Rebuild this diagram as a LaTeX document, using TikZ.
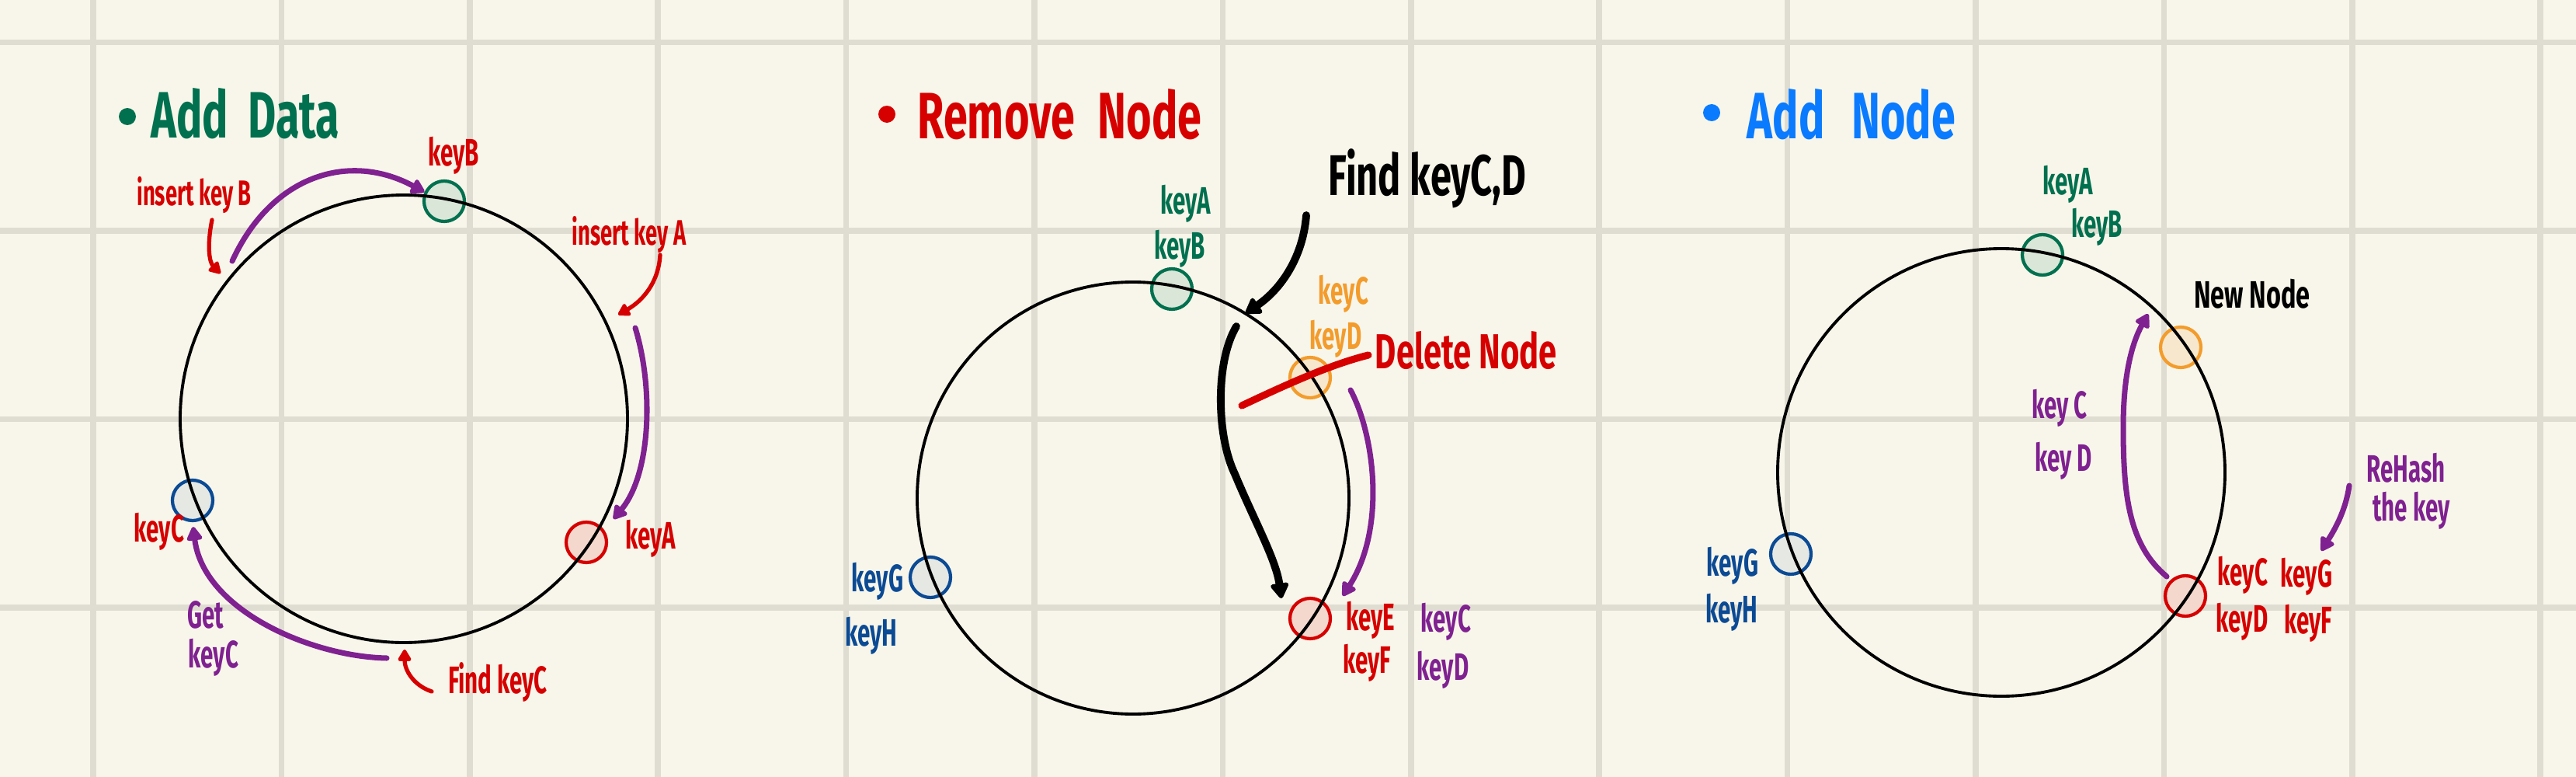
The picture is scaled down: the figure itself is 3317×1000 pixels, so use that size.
\documentclass[tikz,border=0pt]{standalone}
\usepackage{fontspec}
\setmainfont{Fira Sans}[FakeStretch=0.66]
\newfontfamily\handfont{Fira Sans}[FakeStretch=0.6]
\usetikzlibrary{arrows.meta}

\definecolor{paper}{HTML}{F8F6EA}
\definecolor{gridline}{HTML}{DFDDD1}
\definecolor{inkgreen}{HTML}{00704F}
\definecolor{inkred}{HTML}{D60000}
\definecolor{inkblue}{HTML}{0B4A94}
\definecolor{inkbright}{HTML}{0A7BFF}
\definecolor{inkpurple}{HTML}{7F2190}
\definecolor{inkorange}{HTML}{F39C2C}

\tikzset{
  keynode/.style={circle, draw, line width=1.2pt, minimum size=0.52cm, inner sep=0pt},
  greennode/.style={keynode, draw=inkgreen, fill=inkgreen!12!paper},
  bluenode/.style={keynode, draw=inkblue, fill=inkblue!8!paper},
  rednode/.style={keynode, draw=inkred, fill=inkred!12!paper},
  orangenode/.style={keynode, draw=inkorange, fill=inkorange!15!paper},
  ring/.style={line width=1.1pt},
  lbl/.style={font=\handfont\bfseries\fontsize{14}{15}\selectfont, inner sep=0pt},
  smalllbl/.style={font=\handfont\bfseries\fontsize{13}{14}\selectfont, inner sep=0pt},
  ttl/.style={font=\bfseries\fontsize{24}{26}\selectfont, inner sep=0pt, anchor=base west},
  ink/.style={line width=2pt, line cap=round, -{Triangle[length=0.2cm,width=0.22cm,round]}},
  thinink/.style={line width=1.5pt, line cap=round, -{Triangle[length=0.17cm,width=0.19cm,round]}},
  boldink/.style={line width=2.8pt, line cap=round, -{Triangle[length=0.22cm,width=0.26cm,round]}},
}

\begin{document}
\begin{tikzpicture}[x=0.01cm, y=-0.01cm]

\useasboundingbox (0,0) rectangle (3317,1000);
\fill[paper] (0,0) rectangle (3317,1000);
\foreach \i in {0,...,13}
  \draw[gridline, line width=2.2pt] ({120+242.4*\i},0) -- ({120+242.4*\i},1000);
\foreach \j in {0,...,3}
  \draw[gridline, line width=2.2pt] (0,{54.6+242.4*\j}) -- (3317,{54.6+242.4*\j});

% Add Data
\fill[inkgreen] (164,150) circle[radius=11];
\node[ttl, inkgreen] (ttlData) at (194,177) {Add\hspace{0.25cm}Data};

\node[greennode] (g1) at (572,259) {};
\node[bluenode] (b1) at (248,644) {};
\node[rednode] (r1) at (755,698) {};
\draw[ring] (520,539) circle[radius=288];

\node[lbl, inkred] (lB1) at (584,200) {keyB};
\node[smalllbl, inkred] (lInsB) at (250,251) {insert key B};
\node[smalllbl, inkred] (lInsA) at (810,302) {insert key A};
\node[lbl, inkred] (lA1) at (838,693) {keyA};
\node[lbl, inkred] (lC1) at (205,684) {keyC};
\node[lbl, inkpurple] (lGet) at (265,791) {Get};
\node[lbl, inkpurple] (lGetC) at (275,846) {keyC};
\node[lbl, inkred] (lFind) at (641,878) {Find keyC};

\coordinate (insBtail) at (273,283);
\coordinate (insBtip) at (284,352);
\coordinate (movBtail) at (299,336);
\coordinate (insAtail) at (850,328);
\coordinate (insAtip) at (796,405);
\coordinate (movAtail) at (818,422);
\coordinate (movAtip) at (790,668);
\coordinate (getCtail) at (498,847);
\coordinate (findCtail) at (556,890);
\coordinate (findCtip) at (521,836);

\draw[thinink, inkred] (insBtail) .. controls (266,318) and (270,338) .. (insBtip);
\draw[ink, inkpurple] (movBtail) .. controls (350,225) and (450,195) .. (g1.155);
\draw[thinink, inkred] (insAtail) .. controls (848,365) and (826,388) .. (insAtip);
\draw[ink, inkpurple] (movAtail) .. controls (842,500) and (838,610) .. (movAtip);
\draw[ink, inkpurple, shorten >=0.06cm] (getCtail) .. controls (400,845) and (262,785) .. (b1.south);
\draw[thinink, inkred] (findCtail) .. controls (532,882) and (521,862) .. (findCtip);

% Remove Node
\fill[inkred] (1142,147) circle[radius=11];
\node[ttl, inkred] (ttlRemove) at (1181,178) {Remove\hspace{0.3cm}Node};

\node[greennode] (g2) at (1509,372) {};
\node[orangenode] (o2) at (1687,486) {};
\node[bluenode] (b2) at (1198,743) {};
\node[rednode] (r2) at (1687,796) {};
\draw[ring] (1459,641) circle[radius=278];

\node[lbl, inkgreen] (lA2) at (1527,262) {keyA};
\node[lbl, inkgreen] (lB2) at (1519,320) {keyB};
\node[lbl, font=\bfseries\fontsize{21}{23}\selectfont] (lFindCD) at (1838,230) {Find keyC,D};
\node[lbl, inkorange] (lC2) at (1730,378) {keyC};
\node[lbl, inkorange] (lD2) at (1720,436) {keyD};
\node[lbl, inkred, font=\bfseries\fontsize{18}{20}\selectfont] (lDel) at (1888,451) {Delete Node};
\node[lbl, inkblue] (lG2) at (1130,748) {keyG};
\node[lbl, inkblue] (lH2) at (1122,818) {keyH};
\node[lbl, inkred] (lE2) at (1765,798) {keyE};
\node[lbl, inkred] (lF2) at (1760,853) {keyF};
\node[lbl, inkpurple] (lCm2) at (1862,800) {keyC};
\node[lbl, inkpurple] (lDm2) at (1858,862) {keyD};

\coordinate (findtail) at (1682,277);
\coordinate (findtip) at (1604,403);
\coordinate (movetail) at (1592,420);
\coordinate (movebend) at (1590,610);
\coordinate (movetip) at (1650,770);
\coordinate (hashtail) at (1739,502);
\coordinate (hashtip) at (1729,767);
\coordinate (strikeA) at (1599,522);
\coordinate (strikeB) at (1762,457);

\draw[boldink] (findtail) .. controls (1678,330) and (1650,372) .. (findtip);
\draw[boldink] (movetail) .. controls (1565,465) and (1566,560) .. (movebend)
  .. controls (1615,670) and (1643,720) .. (movetip);
\draw[ink, inkpurple] (hashtail) .. controls (1770,560) and (1785,680) .. (hashtip);
\draw[inkred, line width=2.6pt, line cap=round] (strikeA) .. controls (1650,498) and (1710,470) .. (strikeB);

% Add Node
\fill[inkbright] (2204,145) circle[radius=11];
\node[ttl, inkbright] (ttlAdd) at (2249,178) {Add\hspace{0.35cm}Node};

\node[greennode] (g3) at (2630,328) {};
\node[orangenode] (o3) at (2808,447) {};
\node[bluenode] (b3) at (2306,713) {};
\node[rednode] (r3) at (2814,767) {};
\draw[ring] (2577,608) circle[radius=288];

\node[lbl, inkgreen] (lA3) at (2663,237) {keyA};
\node[lbl, inkgreen] (lB3) at (2700,292) {keyB};
\node[lbl, font=\bfseries\fontsize{14}{16}\selectfont] (lNew) at (2900,378) {New Node};
\node[lbl, inkpurple] (lCm3) at (2652,525) {key C};
\node[lbl, inkpurple] (lDm3) at (2657,593) {key D};
\node[lbl, inkpurple] (lRe) at (3098,602) {ReHash};
\node[lbl, inkpurple] (lThe) at (3105,657) {the key};
\node[lbl, inkred] (lC3) at (2888,740) {keyC};
\node[lbl, inkred] (lG3) at (2970,742) {keyG};
\node[lbl, inkred] (lD3) at (2887,800) {keyD};
\node[lbl, inkred] (lF3) at (2972,802) {keyF};
\node[lbl, inkblue] (lGb3) at (2231,728) {keyG};
\node[lbl, inkblue] (lHb3) at (2230,788) {keyH};

\coordinate (uptail) at (2790,742);
\coordinate (upbend) at (2734,550);
\coordinate (uptip) at (2766,404);
\coordinate (retail) at (3025,625);
\coordinate (retip) at (2989,709);

\draw[ink, inkpurple] (uptail) .. controls (2742,702) and (2734,640) .. (upbend)
  .. controls (2734,480) and (2746,440) .. (uptip);
\draw[ink, inkpurple] (retail) .. controls (3020,660) and (3004,685) .. (retip);

\end{tikzpicture}
\end{document}
